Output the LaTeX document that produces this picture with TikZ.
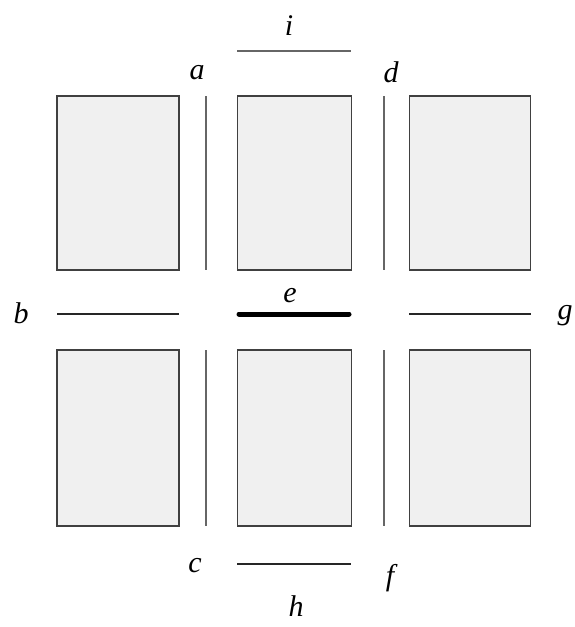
\documentclass[tikz,border=0pt]{standalone}
\usepackage{fontspec}
\setmainfont{Liberation Serif}
\begin{document}
\begin{tikzpicture}[x=1pt,y=-1pt,
  cell/.style={draw=black!75,fill=black!6,line width=1.3pt},
  thinline/.style={draw=black!60,line width=1.1pt},
  darkline/.style={draw=black!85,line width=1.3pt},
  boldline/.style={draw=black,line width=5pt,line cap=round},
  lab/.style={font=\fontsize{30}{32}\selectfont\itshape,inner sep=0pt}]
\useasboundingbox (0,0) rectangle (575,627);
% cells
\node[cell,minimum width=122pt,minimum height=174pt,inner sep=0pt] (r11) at (118,183) {};
\node[cell,minimum width=114pt,minimum height=174pt,inner sep=0pt] (r12) at (294.5,183) {};
\node[cell,minimum width=121pt,minimum height=174pt,inner sep=0pt] (r13) at (470,183) {};
\node[cell,minimum width=122pt,minimum height=176pt,inner sep=0pt] (r21) at (118,438) {};
\node[cell,minimum width=114pt,minimum height=176pt,inner sep=0pt] (r22) at (294.5,438) {};
\node[cell,minimum width=121pt,minimum height=176pt,inner sep=0pt] (r23) at (470,438) {};
% edge end points
\coordinate (a1) at (206,96); \coordinate (a2) at (206,270);
\coordinate (c1) at (206,350); \coordinate (c2) at (206,526);
\coordinate (d1) at (384,96); \coordinate (d2) at (384,270);
\coordinate (f1) at (384,350); \coordinate (f2) at (384,526);
\coordinate (i1) at (237,51); \coordinate (i2) at (351,51);
\coordinate (b1) at (57,314); \coordinate (b2) at (179,314);
\coordinate (e1) at (239,314); \coordinate (e2) at (349,314);
\coordinate (g1) at (409,314); \coordinate (g2) at (531,314);
\coordinate (h1) at (237,564); \coordinate (h2) at (351,564);
\draw[thinline] (a1) -- (a2);
\draw[thinline] (c1) -- (c2);
\draw[thinline] (d1) -- (d2);
\draw[thinline] (f1) -- (f2);
\draw[thinline] (i1) -- (i2);
\draw[darkline] (b1) -- (b2);
\draw[darkline] (g1) -- (g2);
\draw[darkline] (h1) -- (h2);
\draw[boldline] (e1) -- (e2);
% labels
\node[lab] (li) at (289,26) {i};
\node[lab] (la) at (197,73) {a};
\node[lab] (ld) at (391,72) {d};
\node[lab] (lb) at (21,313) {b};
\node[lab] (le) at (290,296) {e};
\node[lab] (lg) at (565,316) {g};
\node[lab] (lc) at (195,566) {c};
\node[lab] (lf) at (390,578) {f};
\node[lab] (lh) at (296,606) {h};
\end{tikzpicture}
\end{document}
